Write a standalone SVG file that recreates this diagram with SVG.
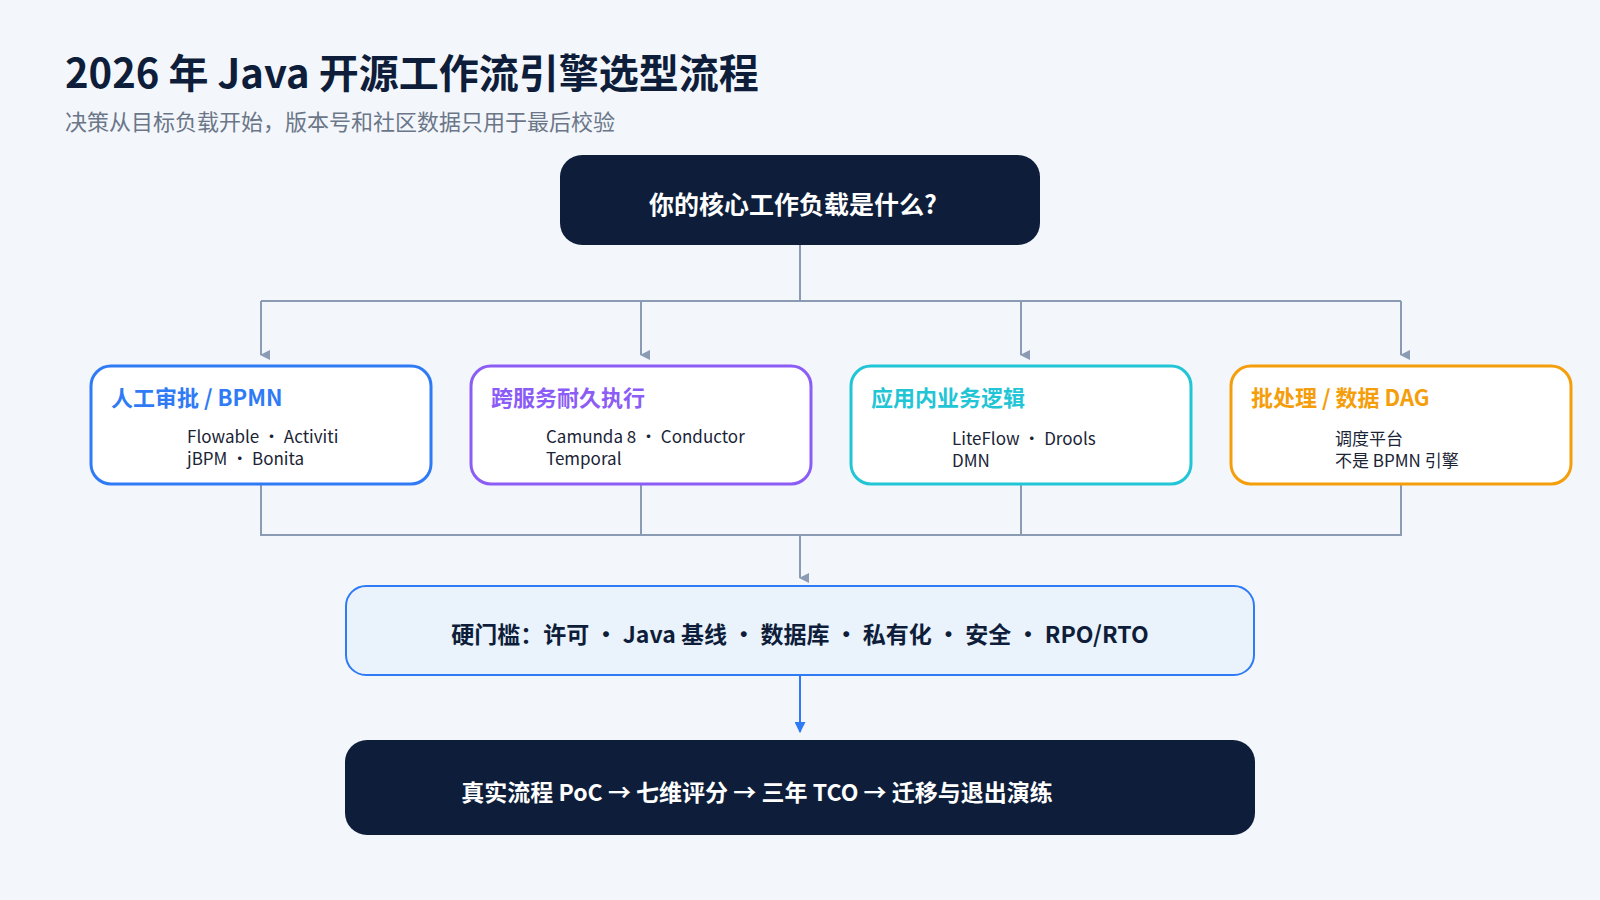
<svg xmlns="http://www.w3.org/2000/svg" width="1600" height="900" viewBox="0 0 1600 900">
<defs>
<marker id="ag" viewBox="0 0 10 10" refX="5" refY="9" markerWidth="10" markerHeight="10" markerUnits="userSpaceOnUse" orient="auto-start-reverse"><path d="M0,0 L10,0 L5,10 Z" fill="#8A9BB3" transform="rotate(0)"/></marker>
<marker id="ab" viewBox="0 0 10 10" refX="5" refY="9" markerWidth="11" markerHeight="11" markerUnits="userSpaceOnUse"><path d="M0,0 L10,0 L5,10 Z" fill="#2F7BF5"/></marker>
<style>
text{font-family:"Noto Sans CJK SC","Noto Sans",sans-serif}
.c{fill:none;stroke:#8A9BB3;stroke-width:2}
.card{fill:#fff;stroke-width:3}
.h{font-size:22px;font-weight:700}
.s{font-size:17px;fill:#1a2436}
</style>
</defs>
<rect width="1600" height="900" fill="#F3F7FC"/>
<text x="65" y="88" font-size="40" font-weight="700" fill="#0E1E3A">2026 年 Java 开源工作流引擎选型流程</text>
<text x="65" y="130" font-size="22" fill="#6B7688">决策从目标负载开始，版本号和社区数据只用于最后校验</text>
<g id="connectors">
<path class="c" d="M800,245 V301 M261,301 H1401"/>
<path class="c" marker-end="url(#ag)" d="M261,301 V355"/>
<path class="c" marker-end="url(#ag)" d="M641,301 V355"/>
<path class="c" marker-end="url(#ag)" d="M1021,301 V355"/>
<path class="c" marker-end="url(#ag)" d="M1401,301 V355"/>
<path class="c" d="M261,477 V535 H1401 V477 M641,477 V535 M1021,477 V535"/>
<path class="c" marker-end="url(#ag)" d="M800,535 V578"/>
<path fill="none" stroke="#2F7BF5" stroke-width="2" marker-end="url(#ab)" d="M800,676 V732"/>
</g>
<g id="q"><rect x="560" y="155" width="480" height="90" rx="22" fill="#0E1E3A"/><text x="793" y="214" text-anchor="middle" font-size="25" font-weight="700" fill="#fff">你的核心工作负载是什么?</text></g>
<g id="n1"><rect class="card" x="91" y="366" width="340" height="118" rx="20" stroke="#2F7BF5"/><text class="h" x="111" y="406" fill="#2F7BF5">人工审批 / BPMN</text><text class="s" x="187" y="443">Flowable · Activiti</text><text class="s" x="187" y="465">jBPM · Bonita</text></g>
<g id="n2"><rect class="card" x="471" y="366" width="340" height="118" rx="20" stroke="#8B5CF6"/><text class="h" x="491" y="406" fill="#8B5CF6">跨服务耐久执行</text><text class="s" x="546" y="443">Camunda 8 · Conductor</text><text class="s" x="546" y="465">Temporal</text></g>
<g id="n3"><rect class="card" x="851" y="366" width="340" height="118" rx="20" stroke="#22C5D5"/><text class="h" x="871" y="406" fill="#22C5D5">应用内业务逻辑</text><text class="s" x="952" y="445">LiteFlow · Drools</text><text class="s" x="952" y="467">DMN</text></g>
<g id="n4"><rect class="card" x="1231" y="366" width="340" height="118" rx="20" stroke="#F59E0B"/><text class="h" x="1251" y="406" fill="#F59E0B">批处理 / 数据 DAG</text><text class="s" x="1335" y="445">调度平台</text><text class="s" x="1335" y="467">不是 BPMN 引擎</text></g>
<g id="gate"><rect x="346" y="586" width="908" height="89" rx="20" fill="#EAF2FC" stroke="#2F7BF5" stroke-width="2"/><text x="800" y="643" text-anchor="middle" font-size="23" font-weight="700" fill="#0E1E3A">硬门槛：许可 • Java 基线 • 数据库 • 私有化 • 安全 • RPO/RTO</text></g>
<g id="final"><rect x="345" y="740" width="910" height="95" rx="22" fill="#0E1E3A"/><text x="757" y="801" text-anchor="middle" font-size="23" font-weight="700" fill="#fff">真实流程 PoC → 七维评分 → 三年 TCO → 迁移与退出演练</text></g>
</svg>
